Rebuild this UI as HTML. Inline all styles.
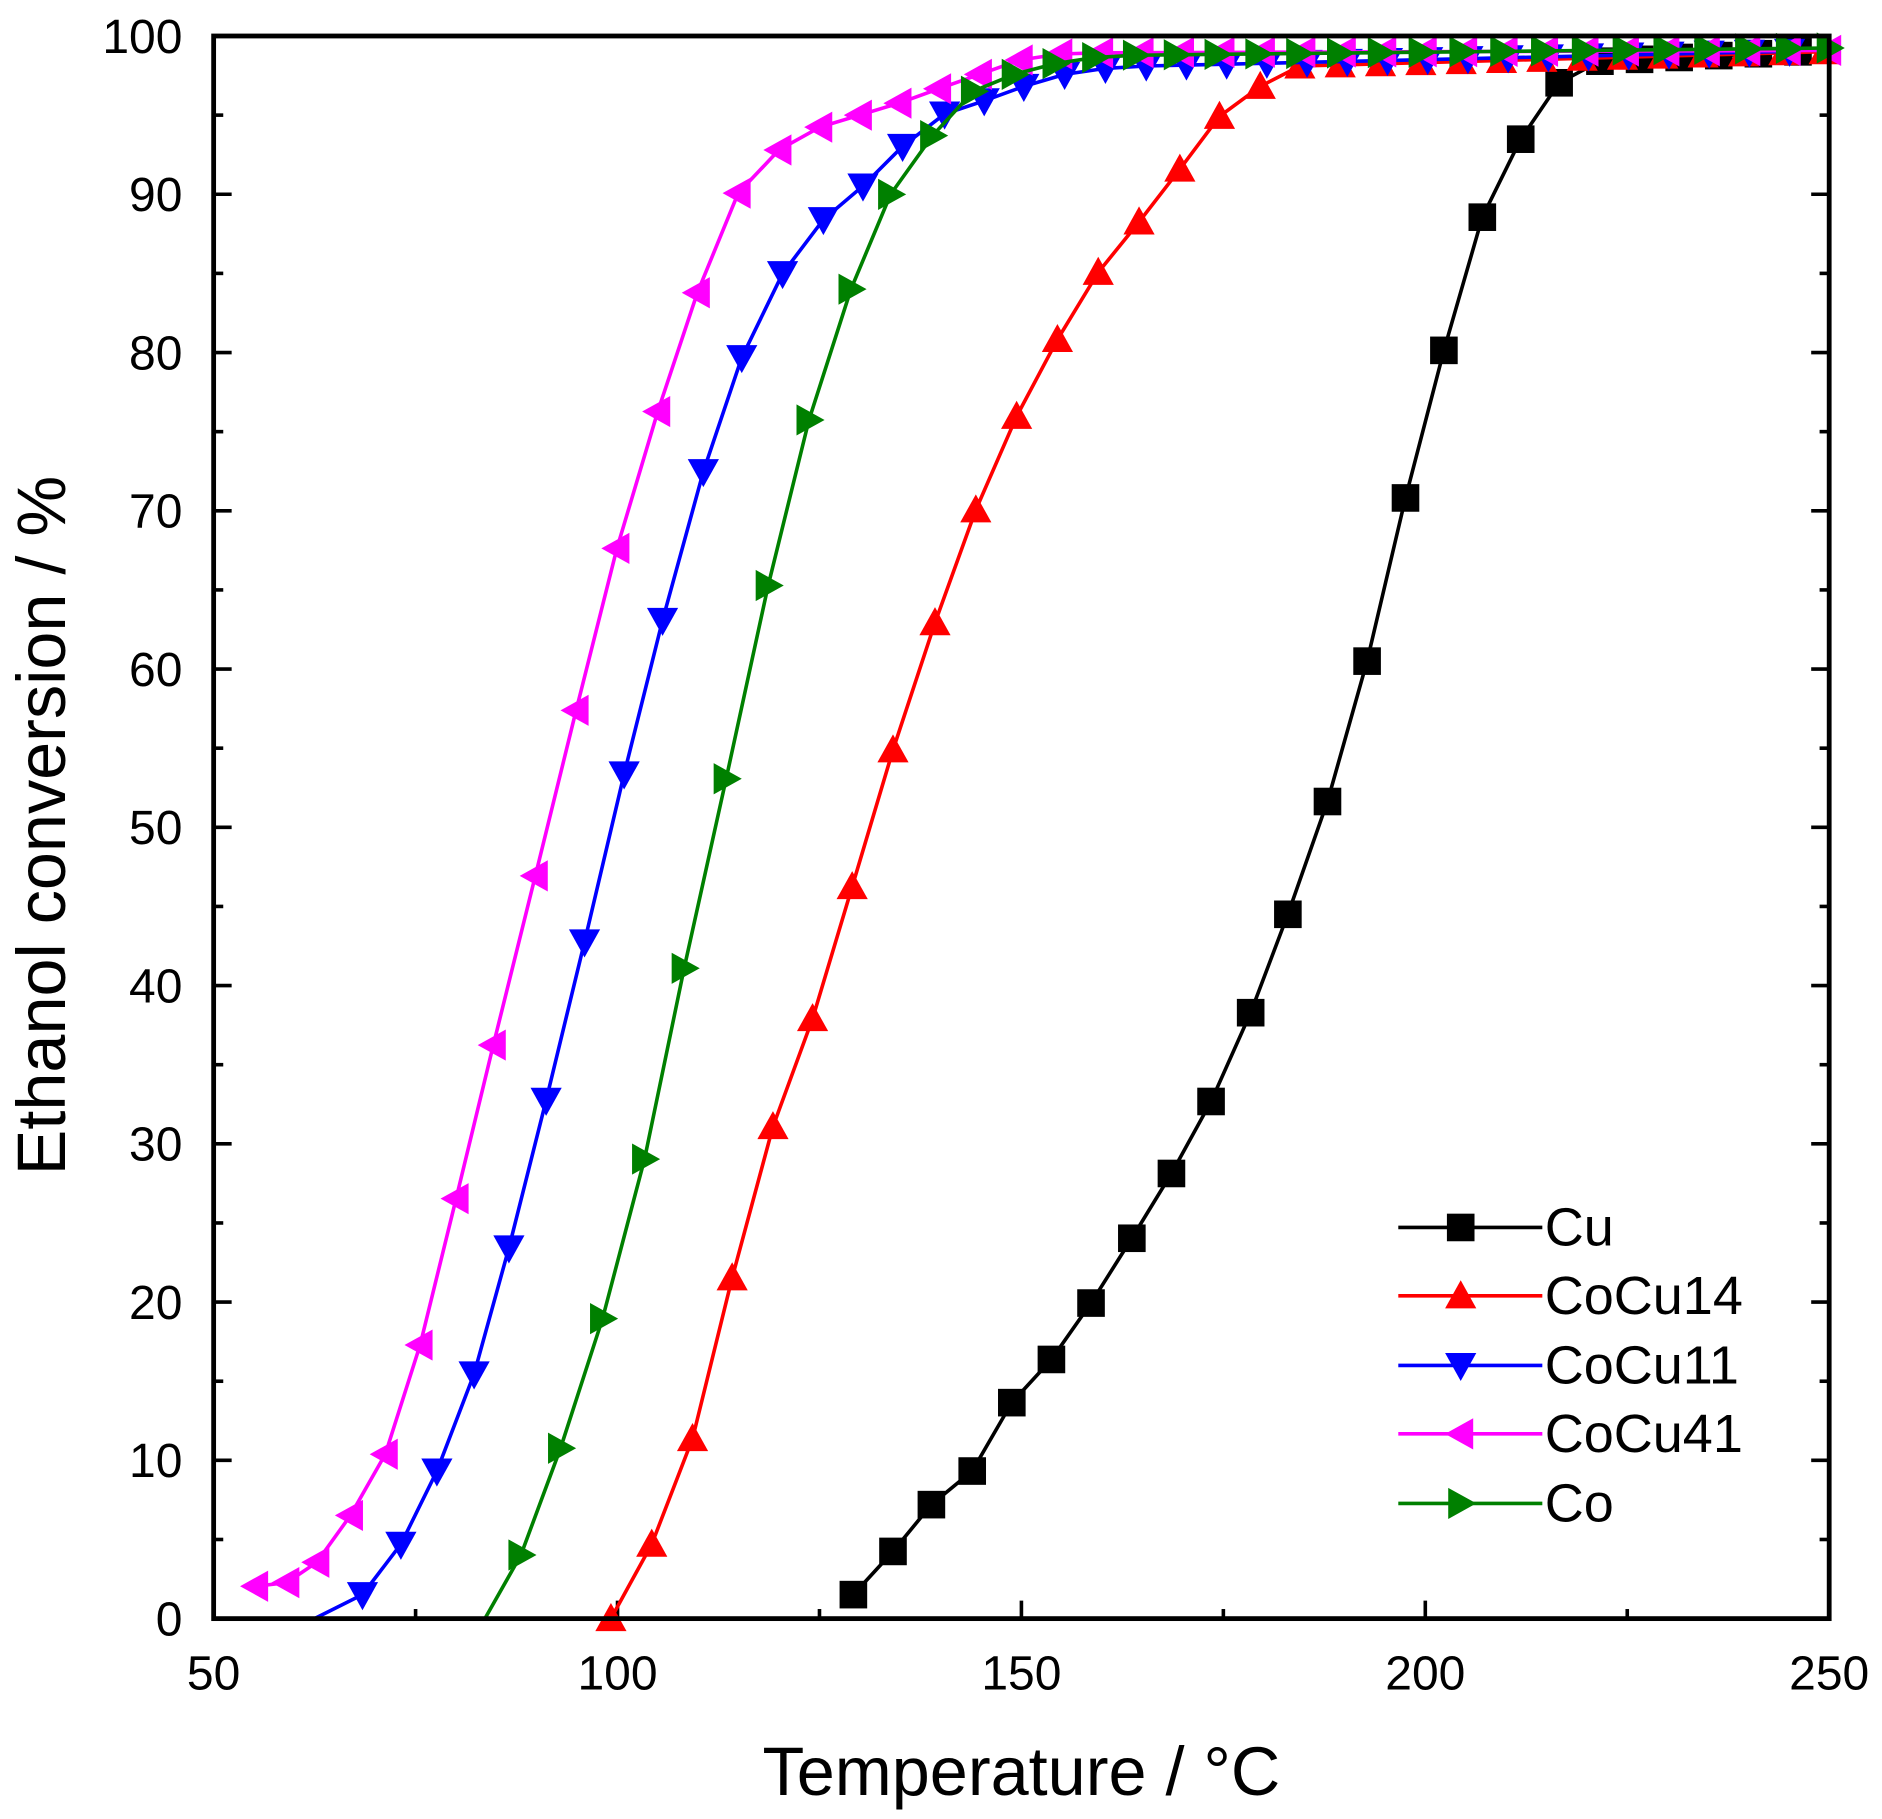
<!DOCTYPE html>
<html><head><meta charset="utf-8"><style>html,body{margin:0;padding:0;background:#fff}svg{display:block}</style></head>
<body>
<svg id="s" width="1882" height="1819" viewBox="0 0 1568 1516" preserveAspectRatio="none" xmlns="http://www.w3.org/2000/svg" font-family="Liberation Sans, Arial, sans-serif">
<g id="ticks" stroke="#000" stroke-width="3"></g>
<g id="lab" font-size="40" fill="#000"></g>
<g id="data"></g>
<rect x="178" y="30" width="1346" height="1319" fill="none" stroke="#000" stroke-width="4"/>
<text x="851" y="1496" font-size="57" text-anchor="middle">Temperature / °C</text>
<text transform="translate(54,688) rotate(-90)" font-size="57" text-anchor="middle">Ethanol conversion / %</text>
<g font-size="45">
<text x="1287" y="1038">Cu</text>
<text x="1287" y="1095">CoCu14</text>
<text x="1287" y="1153">CoCu11</text>
<text x="1287" y="1210">CoCu41</text>
<text x="1287" y="1268">Co</text>
</g>
</svg>
<script>
const NS="http://www.w3.org/2000/svg";
function el(p,t,a){const e=document.createElementNS(NS,t);for(const k in a)e.setAttribute(k,a[k]);p.appendChild(e);return e;}
const T=document.getElementById('ticks'),L=document.getElementById('lab'),D=document.getElementById('data');
const X=v=>178+(v-50)*6.73, Y=v=>1349-v*13.19;
for(let v=0;v<=100;v+=5){const y=Y(v),l=v%10?8:15;
 el(T,'line',{x1:178,x2:178+l,y1:y,y2:y});el(T,'line',{x1:1524,x2:1524-l,y1:y,y2:y});
 if(v%10==0){const t=el(L,'text',{x:152,y:y+14,'text-anchor':'end'});t.textContent=v;}}
for(let v=50;v<=250;v+=25){const x=X(v),l=v%50?8:15;
 el(T,'line',{x1:x,x2:x,y1:1349,y2:1349-l});
 if(v%50==0){const t=el(L,'text',{x:x,y:1408,'text-anchor':'middle'});t.textContent=v;}}
function fill(arr,x0,y0,x1,y1,step){for(let x=x0;x<=x1;x+=step)arr.push([x,y0+(y1-y0)*(x-x0)/(x1-x0)]);return arr;}
const cu=fill([[711,1329],[744,1293],[776,1254],[810,1226],[843,1169],[876,1133],[909,1086],[943,1032],[976,978],[1009,918],[1042,844],[1073,762],[1106,668],[1139,551],[1171,415],[1203,292],[1235,181],[1267,116],[1299,69]],1333,51,1524,42,33);
const r14=fill([[509,1349],[543,1287],[577,1199],[610,1065],[644,939],[677,849],[710,739],[744,625],[779,519],[813,425],[847,347],[881,283],[915,227],[949,185],[983,141],[1016,97],[1050,72]],1083,55,1524,43,33.6);
const b11=fill([[262,1349],[302,1329],[334,1287],[364,1226],[395,1145],[424,1040],[455,917],[487,785],[520,645],[552,517],[586,393],[618,298],[652,228],[686,183],[719,155],[752,122],[787,95],[820,84],[853,72],[887,62],[921,57]],955,55,1524,42,33.5);
const m41=fill([[213,1322],[239,1319],[264,1302],[292,1263],[321,1212],[350,1121],[380,999],[411,871],[446,730],[480,592],[514,457],[548,343],[581,244],[615,161],[649,125],[683,106],[716,96],[749,86],[782,74],[816,62],[850,50],[883,45]],917,44,1524,42,33.7);
const g=fill([[404,1349],[434,1296],[467,1207],[502,1099],[537,966],[570,807],[605,649],[640,488],[674,350],[709,241],[742,162],[777,113],[811,76],[845,62],[879,53],[912,48]],946,46,1524,40,34);
function mk(p,x,y,type,c){const s=13;let pts;
 if(type=='sq'){el(p,'rect',{x:x-11.5,y:y-11.5,width:23,height:23,fill:c});return;}
 if(type=='up')pts=[[x,y-s],[x-s,y+s*0.8],[x+s,y+s*0.8]];
 if(type=='dn')pts=[[x,y+s],[x-s,y-s*0.8],[x+s,y-s*0.8]];
 if(type=='lf')pts=[[x-s,y],[x+s*0.8,y-s],[x+s*0.8,y+s]];
 if(type=='rt')pts=[[x+s,y],[x-s*0.8,y-s],[x-s*0.8,y+s]];
 el(p,'polygon',{points:pts.map(q=>q.join(',')).join(' '),fill:c});}
function series(d,type,c,skip,ly){const gr=el(D,'g',{});
 el(gr,'polyline',{points:d.map(q=>q.join(',')).join(' '),fill:'none',stroke:c,'stroke-width':3});
 d.forEach((q,i)=>{if(i>=skip)mk(gr,q[0],q[1],type,c)});
 el(gr,'line',{x1:1165,x2:1285,y1:ly,y2:ly,stroke:c,'stroke-width':3});mk(gr,1217,ly,type,c);}
series(cu,'sq','#000',0,1023);
series(r14,'up','#ff0000',0,1080);
series(b11,'dn','#0000ff',1,1138);
series(m41,'lf','#ff00ff',0,1195);
series(g,'rt','#008000',1,1253);
</script>
</body></html>
